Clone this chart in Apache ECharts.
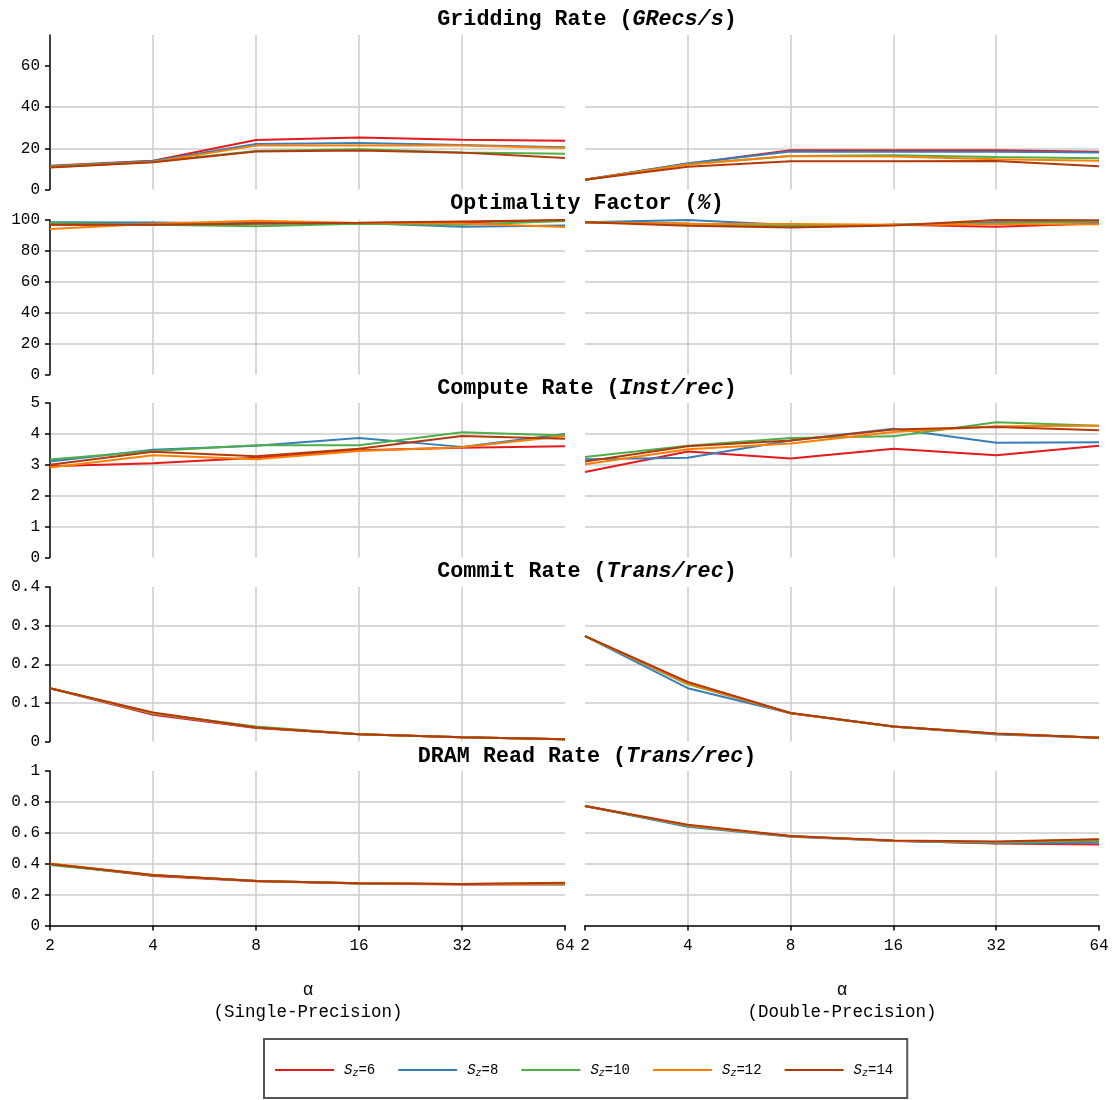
<!DOCTYPE html>
<html>
<head>
<meta charset="utf-8">
<script src="https://cdn.jsdelivr.net/npm/echarts@6/dist/echarts.min.js"></script>
<style>
html,body{margin:0;padding:0;background:#fff;}
#chart{width:1115px;height:1100px;}
</style>
</head>
<body>
<div id="chart"></div>
<script>
// ---------- DATA ----------
const alphas = ['2', '4', '8', '16', '32', '64'];
const seriesNames = ['Sz=6', 'Sz=8', 'Sz=10', 'Sz=12', 'Sz=14'];
const seriesColors = ['#e41a1c', '#377eb8', '#4daf4a', '#ff7f00', '#b23a0a'];

const panelTitles = [
  ['Gridding Rate (', 'GRecs/s', ')'],
  ['Optimality Factor (', '%', ')'],
  ['Compute Rate (', 'Inst/rec', ')'],
  ['Commit Rate (', 'Trans/rec', ')'],
  ['DRAM Read Rate (', 'Trans/rec', ')']
];
const yMax = [75, 100, 5, 0.4, 1];
const yInterval = [20, 20, 1, 0.1, 0.2];
const gridTickValues = [0, 20, 40, 60];

// rows: Sz=6, Sz=8, Sz=10, Sz=12, Sz=14 ; columns follow alphas
const griddingSP = [
  [11.5, 14.0, 24.0, 25.3, 24.2, 23.7],
  [11.3, 13.8, 22.1, 22.6, 21.6, 20.5],
  [11.2, 13.5, 18.7, 19.5, 18.0, 17.3],
  [10.8, 13.3, 21.3, 21.3, 21.3, 20.2],
  [10.7, 13.2, 18.4, 18.9, 17.9, 15.3]
];
const griddingDP = [
  [4.7, 12.5, 19.0, 19.0, 19.0, 18.3],
  [4.7, 12.7, 18.4, 18.3, 18.3, 18.0],
  [4.7, 12.2, 16.3, 16.6, 15.8, 15.2],
  [4.7, 12.1, 16.3, 16.0, 14.7, 14.0],
  [4.7, 11.1, 13.7, 13.7, 13.8, 11.3]
];
const optimalitySP = [
  [97.0, 97.0, 98.3, 98.0, 98.5, 99.8],
  [98.5, 98.4, 97.8, 98.0, 95.7, 96.5],
  [98.0, 97.0, 96.0, 97.6, 97.0, 99.3],
  [94.1, 97.5, 99.5, 98.0, 97.8, 95.4],
  [97.0, 97.0, 97.6, 98.2, 99.1, 100.0]
];
const optimalityDP = [
  [98.5, 97.5, 95.7, 97.0, 95.7, 97.8],
  [98.5, 100.0, 96.7, 97.0, 98.5, 98.9],
  [98.5, 97.5, 96.0, 97.0, 97.8, 99.3],
  [98.5, 97.5, 97.4, 97.0, 97.2, 97.2],
  [98.5, 96.3, 95.2, 96.5, 100.0, 99.8]
];
const computeSP = [
  [2.95, 3.05, 3.23, 3.47, 3.55, 3.60],
  [3.11, 3.49, 3.62, 3.87, 3.58, 4.00],
  [3.17, 3.45, 3.63, 3.63, 4.05, 3.95],
  [2.91, 3.31, 3.18, 3.45, 3.57, 3.93],
  [3.00, 3.42, 3.28, 3.52, 3.93, 3.84]
];
const computeDP = [
  [2.77, 3.43, 3.20, 3.52, 3.31, 3.62],
  [3.18, 3.23, 3.79, 4.17, 3.71, 3.73],
  [3.25, 3.62, 3.87, 3.92, 4.38, 4.26],
  [3.02, 3.50, 3.69, 4.06, 4.25, 4.26],
  [3.11, 3.60, 3.79, 4.14, 4.22, 4.12]
];
const commitSP = [
  [0.138, 0.069, 0.035, 0.019, 0.011, 0.006],
  [0.138, 0.072, 0.036, 0.019, 0.011, 0.006],
  [0.138, 0.073, 0.039, 0.019, 0.011, 0.006],
  [0.138, 0.073, 0.036, 0.019, 0.011, 0.006],
  [0.138, 0.075, 0.036, 0.019, 0.011, 0.006]
];
const commitDP = [
  [0.273, 0.153, 0.073, 0.039, 0.020, 0.010],
  [0.273, 0.138, 0.073, 0.039, 0.018, 0.010],
  [0.273, 0.148, 0.074, 0.038, 0.020, 0.010],
  [0.273, 0.150, 0.073, 0.039, 0.020, 0.010],
  [0.273, 0.154, 0.074, 0.039, 0.021, 0.010]
];
const dramSP = [
  [0.398, 0.320, 0.287, 0.272, 0.266, 0.265],
  [0.398, 0.326, 0.288, 0.273, 0.267, 0.270],
  [0.391, 0.326, 0.289, 0.272, 0.268, 0.271],
  [0.402, 0.327, 0.288, 0.273, 0.268, 0.274],
  [0.398, 0.327, 0.288, 0.273, 0.269, 0.277]
];
const dramDP = [
  [0.774, 0.645, 0.578, 0.548, 0.531, 0.525],
  [0.774, 0.639, 0.574, 0.547, 0.533, 0.538],
  [0.774, 0.645, 0.578, 0.548, 0.538, 0.548],
  [0.774, 0.648, 0.578, 0.549, 0.540, 0.557],
  [0.774, 0.652, 0.580, 0.550, 0.544, 0.559]
];
const panelData = [
  [griddingSP, griddingDP],
  [optimalitySP, optimalityDP],
  [computeSP, computeDP],
  [commitSP, commitDP],
  [dramSP, dramDP]
];

// ---------- LAYOUT ----------
const MONO = '"Liberation Mono", "DejaVu Sans Mono", monospace';
const rowTops = [35, 220, 403, 587, 771];
const rowHeight = 154.5;
const colLeft = [50, 585];
const colWidth = [515, 514];
const titleY = [20, 204, 389, 572, 757];
const titleX = 587;

const grids = [], xAxes = [], yAxes = [], series = [], graphics = [];

for (let r = 0; r < 5; r++) {
  for (let c = 0; c < 2; c++) {
    const gi = r * 2 + c;
    grids.push({ left: colLeft[c], width: colWidth[c], top: rowTops[r], height: rowHeight, containLabel: false });
    const isBottom = r === 4;
    xAxes.push({
      type: 'category', gridIndex: gi, data: alphas, boundaryGap: false,
      axisLine: { show: isBottom, lineStyle: { color: '#000', width: 1.5 } },
      axisTick: { show: isBottom, length: 5, inside: false, lineStyle: { color: '#000', width: 1.5 } },
      axisLabel: { show: isBottom, interval: 0, margin: 12, color: '#000', fontFamily: MONO, fontSize: 16 },
      splitLine: { show: true, showMinLine: false, showMaxLine: false, lineStyle: { color: '#cccccc', width: 1.5 } }
    });
    const yax = {
      type: 'value', gridIndex: gi, min: 0, max: yMax[r], interval: yInterval[r],
      axisLine: { show: c === 0, onZero: false, lineStyle: { color: '#000', width: 1.5 } },
      axisTick: { show: c === 0, length: 5, lineStyle: { color: '#000', width: 1.5 } },
      axisLabel: { show: c === 0, margin: 10, color: '#000', fontFamily: MONO, fontSize: 16 },
      splitLine: { show: true, showMinLine: false, showMaxLine: false, lineStyle: { color: '#cccccc', width: 1.5 } }
    };
    if (r === 0) {
      yax.axisTick.customValues = gridTickValues;
      yax.axisLabel.customValues = gridTickValues;
    }
    yAxes.push(yax);
    const dataSet = panelData[r][c];
    for (let s = 0; s < seriesNames.length; s++) {
      series.push({
        type: 'line', name: seriesNames[s], xAxisIndex: gi, yAxisIndex: gi,
        data: dataSet[s], symbol: 'none', showSymbol: false,
        lineStyle: { color: seriesColors[s], width: 2 },
        itemStyle: { color: seriesColors[s] },
        emphasis: { disabled: true }
      });
    }
  }
  const t = panelTitles[r];
  graphics.push({
    type: 'text', x: titleX, y: titleY[r], silent: true,
    style: {
      text: '{b|' + t[0] + '}{bi|' + t[1] + '}{b|' + t[2] + '}',
      align: 'center', verticalAlign: 'middle',
      rich: {
        b: { fontFamily: MONO, fontWeight: 'bold', fontSize: 21.7, fill: '#000' },
        bi: { fontFamily: MONO, fontWeight: 'bold', fontStyle: 'italic', fontSize: 21.7, fill: '#000' }
      }
    }
  });
}

const axisNameCenters = [308, 842];
const precisionLabels = ['(Single-Precision)', '(Double-Precision)'];
for (let c = 0; c < 2; c++) {
  graphics.push({ type: 'text', x: axisNameCenters[c], y: 990, silent: true,
    style: { text: 'α', align: 'center', verticalAlign: 'middle', font: '17.5px ' + MONO, fill: '#000' } });
  graphics.push({ type: 'text', x: axisNameCenters[c], y: 1012, silent: true,
    style: { text: precisionLabels[c], align: 'center', verticalAlign: 'middle', font: '17.5px ' + MONO, fill: '#000' } });
}

const option = {
  animation: false,
  backgroundColor: '#fff',
  grid: grids,
  xAxis: xAxes,
  yAxis: yAxes,
  series: series,
  graphic: graphics,
  legend: {
    data: seriesNames.map(function (n) { return { name: n, icon: 'rect' }; }),
    left: 264, top: 1039,
    orient: 'horizontal',
    padding: [24, 14, 20, 11],
    itemGap: 23,
    itemWidth: 59, itemHeight: 2,
    borderColor: '#555', borderWidth: 2,
    selectedMode: false,
    formatter: function (name) {
      return '{i|S}{s|z}{n|' + name.slice(2) + '}';
    },
    textStyle: {
      color: '#000', fontFamily: MONO, fontSize: 14, padding: [0, 0, 0, 5],
      rich: {
        i: { fontFamily: MONO, fontStyle: 'italic', fontSize: 14, color: '#000' },
        s: { fontFamily: MONO, fontStyle: 'italic', fontSize: 10, color: '#000', padding: [6, 0, 0, 0] },
        n: { fontFamily: MONO, fontSize: 14, color: '#000' }
      }
    }
  }
};

const chart = echarts.init(document.getElementById('chart'), null, { renderer: 'canvas' });
chart.setOption(option);
</script>
</body>
</html>
